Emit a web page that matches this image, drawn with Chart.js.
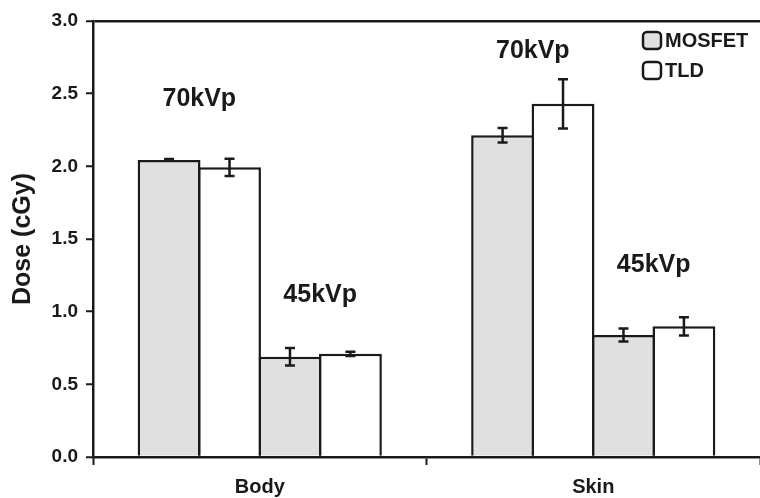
<!DOCTYPE html>
<html>
<head>
<meta charset="utf-8">
<script src="https://cdn.jsdelivr.net/npm/chart.js@4/dist/chart.umd.min.js"></script>
<style>
  html, body { margin: 0; padding: 0; background: #fff; }
  #wrap { width: 760px; height: 498px; }
</style>
</head>
<body>
<div id="wrap"><canvas id="chart-dose"></canvas></div>
<script>
// data
const categories = ['Body', 'Skin'];
const mosfet70 = [2.044, 2.214];
const mosfet70Err = [0.006, 0.05];
const tld70 = [1.993, 2.43];
const tld70Err = [0.06, 0.17];
const mosfet45 = [0.69, 0.839];
const mosfet45Err = [0.06, 0.045];
const tld45 = [0.71, 0.899];
const tld45Err = [0.015, 0.063];
const yTicks = [0.0, 0.5, 1.0, 1.5, 2.0, 2.5, 3.0];

const FONT = '"Liberation Sans", Arial, sans-serif';
const INK = '#1a1a1a';
const GREY = '#e0e0e0';

// error bars
const errorBars = {
  id: 'errorBars',
  afterDatasetsDraw(chart) {
    const ctx = chart.ctx;
    const y = chart.scales.y;
    ctx.save();
    ctx.strokeStyle = INK;
    ctx.lineWidth = 2.5;
    chart.data.datasets.forEach((ds, i) => {
      const meta = chart.getDatasetMeta(i);
      meta.data.forEach((bar, j) => {
        const v = ds.data[j], e = ds.err[j];
        const top = y.getPixelForValue(v + e);
        const bot = y.getPixelForValue(v - e);
        ctx.beginPath();
        ctx.moveTo(bar.x, top); ctx.lineTo(bar.x, bot);
        ctx.moveTo(bar.x - 5, top); ctx.lineTo(bar.x + 5, top);
        ctx.moveTo(bar.x - 5, bot); ctx.lineTo(bar.x + 5, bot);
        ctx.stroke();
      });
    });
    ctx.restore();
  }
};

// kVp labels over each pair of bars
const kvpLabels = {
  id: 'kvpLabels',
  afterDatasetsDraw(chart, args, opts) {
    const ctx = chart.ctx;
    const y = chart.scales.y;
    ctx.save();
    ctx.fillStyle = INK;
    ctx.font = 'bold 25px ' + FONT;
    ctx.textAlign = 'center';
    ctx.textBaseline = 'middle';
    opts.items.forEach(it => {
      const a = chart.getDatasetMeta(it.first).data[it.cat];
      const b = chart.getDatasetMeta(it.first + 1).data[it.cat];
      ctx.fillText(it.text, (a.x + b.x) / 2, y.getPixelForValue(it.at));
    });
    ctx.restore();
  }
};

// legend with boxes stacked at top right
const boxLegend = {
  id: 'boxLegend',
  afterDraw(chart) {
    const ctx = chart.ctx;
    const area = chart.chartArea;
    const x0 = area.right - 117;
    let y0 = area.top + 11;
    ctx.save();
    ctx.font = 'bold 20px ' + FONT;
    ctx.textBaseline = 'middle';
    chart.data.datasets.slice(0, 2).forEach(ds => {
      ctx.beginPath();
      ctx.roundRect(x0, y0, 18, 17, 4);
      ctx.fillStyle = ds.backgroundColor;
      ctx.fill();
      ctx.lineWidth = 2.5;
      ctx.strokeStyle = INK;
      ctx.stroke();
      ctx.fillStyle = INK;
      ctx.fillText(ds.label.split(' ')[0], x0 + 22, y0 + 9);
      y0 += 30;
    });
    ctx.restore();
  }
};

function barSet(label, data, err, color) {
  return {
    label: label,
    data: data,
    err: err,
    backgroundColor: color,
    borderColor: INK,
    borderWidth: 2.5,
    borderSkipped: 'start',
    barPercentage: 1.04,
    categoryPercentage: 0.725
  };
}

const chartDose = document.getElementById('chart-dose');

new Chart(chartDose, {
  type: 'bar',
  data: {
    labels: categories,
    datasets: [
      barSet('MOSFET 70kVp', mosfet70, mosfet70Err, GREY),
      barSet('TLD 70kVp', tld70, tld70Err, '#ffffff'),
      barSet('MOSFET 45kVp', mosfet45, mosfet45Err, GREY),
      barSet('TLD 45kVp', tld45, tld45Err, '#ffffff')
    ]
  },
  options: {
    responsive: true,
    maintainAspectRatio: false,
    animation: false,
    layout: { padding: { top: 21, right: 0, left: 0, bottom: 0 } },
    plugins: {
      legend: { display: false },
      tooltip: { enabled: false },
      kvpLabels: {
        items: [
          { text: '70kVp', cat: 0, first: 0, at: 2.46 },
          { text: '70kVp', cat: 1, first: 0, at: 2.79 },
          { text: '45kVp', cat: 0, first: 2, at: 1.115 },
          { text: '45kVp', cat: 1, first: 2, at: 1.32 }
        ]
      }
    },
    scales: {
      x: {
        grid: {
          offset: true,
          drawOnChartArea: false,
          tickLength: 8,
          tickColor: INK,
          tickWidth: 2
        },
        border: { display: true, color: INK, width: 2.5 },
        ticks: {
          color: INK,
          font: { family: FONT, size: 20, weight: 'bold' },
          padding: 10
        },
        afterFit(scale) { scale.height = 41; }
      },
      y: {
        min: 0,
        max: 3,
        afterBuildTicks(scale) { scale.ticks = yTicks.map(v => ({ value: v })); },
        grid: {
          color: ctx => (ctx.tick && ctx.tick.value === 3 ? INK : 'rgba(0,0,0,0)'),
          lineWidth: 2.5,
          tickLength: 7,
          tickColor: INK,
          tickWidth: 2
        },
        border: { display: true, color: INK, width: 2.5 },
        ticks: {
          color: INK,
          padding: 8,
          font: { family: FONT, size: 19, weight: 'bold' },
          callback: v => v.toFixed(1)
        },
        title: {
          display: true,
          text: 'Dose (cGy)',
          color: INK,
          font: { family: FONT, size: 25, weight: 'bold' },
          padding: { top: 8, bottom: 0 }
        },
        afterFit(scale) { scale.width = 93; }
      }
    }
  },
  plugins: [errorBars, kvpLabels, boxLegend]
});
</script>
</body>
</html>
